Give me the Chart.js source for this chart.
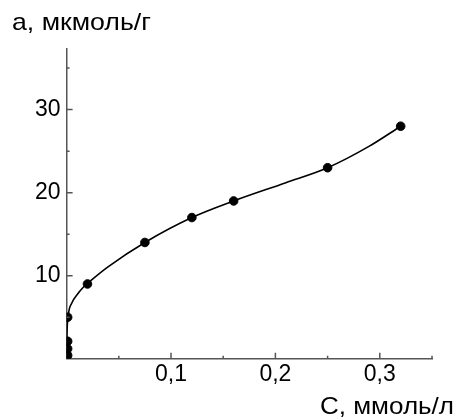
<!DOCTYPE html>
<html>
<head>
<meta charset="utf-8">
<script src="https://cdn.jsdelivr.net/npm/chart.js@4/dist/chart.umd.min.js"></script>
<style>body{margin:0;background:#fff}</style>
</head>
<body>
<canvas id="myChart" width="459" height="420"></canvas>
<script>
// measured points
const pointC=[0.001,0.001,0.001,0.001,0.02,0.075,0.12,0.16,0.25,0.32]
const pointA=[0.4,1.2,2.1,5,9,14,17,19,23,28]

// fitted curve
const curveC=[0,0.0003,0.0015,0.005,0.01,0.016,0.024,0.04,0.075,0.12,0.16,0.21,0.25,0.29,0.32]
const curveA=[0,2.7,5.1,6.7,7.7,8.6,9.5,11.1,14,17,19,21.2,23,25.6,28]

const xLabels=[0.1,0.2,0.3]
const xMinor=[0.05,0.15,0.25,0.35]
const yLabels=[10,20,30]
const yMinor=[5,15,25,35]

const xTitle='С, ммоль/л'
const yTitle='а, мкмоль/г'

const font='"Liberation Sans", Arial, sans-serif'
const axisColor='#555'

// draw text stretched to a given width (the original lettering is a bit wider)
function wideText(ctx,txt,left,base,w){
  const m=ctx.measureText(txt).width
  ctx.save()
  ctx.translate(left,base)
  ctx.scale(w/m,1)
  ctx.fillText(txt,0,0)
  ctx.restore()
}

const inwardTicks={
  id:'inwardTicks',
  afterDraw(chart){
    const ctx=chart.ctx
    const x=chart.scales.x, y=chart.scales.y
    ctx.save()
    ctx.strokeStyle=axisColor
    ctx.lineWidth=1.5
    ctx.beginPath()
    xLabels.forEach(v=>{const p=x.getPixelForValue(v);ctx.moveTo(p,y.bottom);ctx.lineTo(p,y.bottom-6)})
    xMinor.forEach(v=>{const p=x.getPixelForValue(v);ctx.moveTo(p,y.bottom);ctx.lineTo(p,y.bottom-3)})
    yLabels.forEach(v=>{const p=y.getPixelForValue(v);ctx.moveTo(x.left,p);ctx.lineTo(x.left+6,p)})
    yMinor.forEach(v=>{const p=y.getPixelForValue(v);ctx.moveTo(x.left,p);ctx.lineTo(x.left+3,p)})
    ctx.stroke()

    ctx.fillStyle='#000'
    ctx.font='24px '+font
    ctx.textBaseline='alphabetic'
    ctx.textAlign='left'
    wideText(ctx,yTitle,12,30,139)
    wideText(ctx,xTitle,320,414,134)
    ctx.restore()
  }
}

const chart=new Chart(
  document.getElementById('myChart'),
  {
    type:'scatter',
    data:{
      datasets:[
        {
          label:'points',
          data:pointC.map((c,i)=>({x:c,y:pointA[i]})),
          backgroundColor:'#000',
          borderColor:'#000',
          pointRadius:4.3,
          showLine:false
        },
        {
          label:'curve',
          data:curveC.map((c,i)=>({x:c,y:curveA[i]})),
          showLine:true,
          borderColor:'#000',
          borderWidth:1.6,
          pointRadius:0,
          cubicInterpolationMode:'monotone'
        }
      ]
    },
    options:{
      responsive:false,
      animation:false,
      layout:{padding:{left:0,top:49,right:27,bottom:0}},
      plugins:{legend:{display:false},tooltip:{enabled:false}},
      scales:{
        x:{
          type:'linear',
          min:0,
          max:0.35,
          afterBuildTicks:s=>{s.ticks=xLabels.map(v=>({value:v}))},
          afterFit:s=>{s.height=61.3},
          grid:{drawOnChartArea:false,drawTicks:false},
          border:{display:true,color:axisColor,width:1.5},
          ticks:{
            color:'#000',
            padding:2,
            font:{family:font,size:23},
            maxRotation:0,
            callback:v=>v.toFixed(1).replace('.',',')
          }
        },
        y:{
          min:0,
          max:37.3,
          afterBuildTicks:s=>{s.ticks=yLabels.map(v=>({value:v}))},
          afterFit:s=>{s.width=66.6},
          grid:{drawOnChartArea:false,drawTicks:false},
          border:{display:true,color:axisColor,width:1.5},
          ticks:{
            color:'#000',
            padding:6,
            font:{family:font,size:23},
            callback:v=>String(v)
          }
        }
      }
    },
    plugins:[inwardTicks]
  }
)
</script>
</body>
</html>
